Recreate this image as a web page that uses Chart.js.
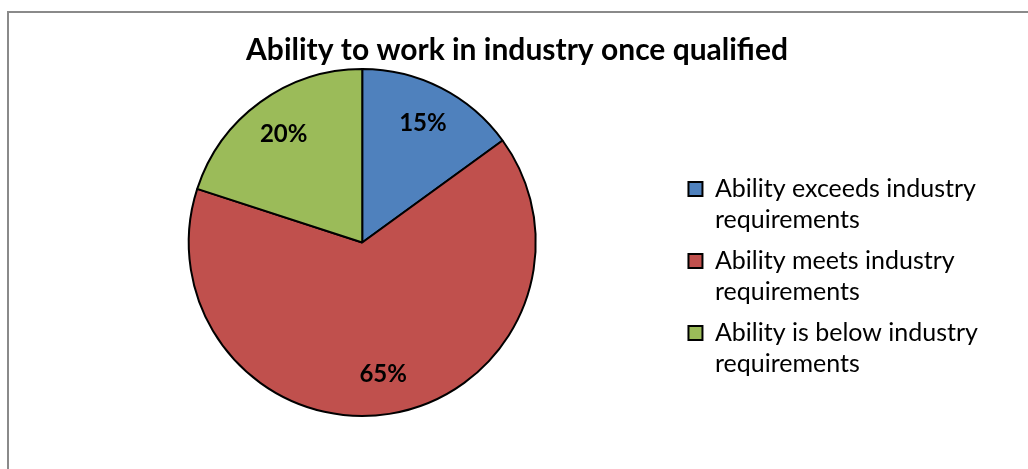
<!DOCTYPE html>
<html>
<head>
<meta charset="utf-8">
<title>Ability to work in industry once qualified</title>
<script src="https://cdn.jsdelivr.net/npm/chart.js@4.4.1/dist/chart.umd.min.js"></script>
<style>
  html, body { margin: 0; padding: 0; background: #fff; }
  body { width: 1028px; height: 469px; position: relative; overflow: hidden; }
  .frame {
    position: absolute; left: 7px; top: 11px; width: 1100px; height: 600px;
    border-top: 2px solid #8a8a8a; border-left: 2px solid #8a8a8a;
  }
  #wrap { position: absolute; left: 0; top: 0; width: 1028px; height: 469px; }
</style>
</head>
<body>
<div class="frame"></div>
<div id="wrap"><canvas id="pieChart"></canvas></div>
<script>
(function () {
  'use strict';

  // values
  const CATEGORIES = [
    ['Ability exceeds industry', 'requirements'],
    ['Ability meets industry', 'requirements'],
    ['Ability is below industry', 'requirements']
  ];
  const SHARES = [15, 65, 20];
  const COLORS = ['#4f81bd', '#c0504d', '#9bbb59'];

  const FONT = "Lato, 'Open Sans', sans-serif";

  // percent labels sitting inside each slice
  const sliceLabels = {
    id: 'sliceLabels',
    afterDatasetsDraw: function (chart) {
      const ctx = chart.ctx;
      const meta = chart.getDatasetMeta(0);
      ctx.save();
      ctx.font = 'bold 24px ' + FONT;
      ctx.fillStyle = '#000';
      ctx.textAlign = 'center';
      ctx.textBaseline = 'middle';
      meta.data.forEach(function (arc, i) {
        const p = arc.getProps(['x', 'y', 'startAngle', 'endAngle', 'outerRadius'], true);
        const mid = (p.startAngle + p.endAngle) / 2;
        const r = p.outerRadius * 0.77;
        ctx.fillText(SHARES[i] + '%', p.x + Math.cos(mid) * r, p.y + Math.sin(mid) * r);
      });
      ctx.restore();
    }
  };

  new Chart(document.getElementById('pieChart'), {
    type: 'pie',
    data: {
      labels: CATEGORIES,
      datasets: [{
        data: SHARES,
        backgroundColor: COLORS,
        borderColor: '#000',
        borderWidth: 2
      }]
    },
    plugins: [sliceLabels],
    options: {
      responsive: true,
      maintainAspectRatio: false,
      animation: false,
      layout: { padding: { left: 46, right: 40, top: 0, bottom: 52 } },
      plugins: {
        title: {
          display: true,
          text: 'Ability to work in industry once qualified',
          color: '#000',
          font: { family: FONT, size: 30, weight: 'bold', lineHeight: 1.2 },
          padding: { top: 32, bottom: 0 }
        },
        legend: {
          position: 'right',
          title: { display: true, text: '', padding: 65, font: { size: 10, lineHeight: 1.2 } },
          labels: {
            color: '#000',
            boxWidth: 14,
            boxHeight: 14,
            padding: 10,
            font: { family: FONT, size: 25, lineHeight: 1.24 }
          }
        },
        tooltip: { enabled: false }
      }
    }
  });
})();
</script>
</body>
</html>
